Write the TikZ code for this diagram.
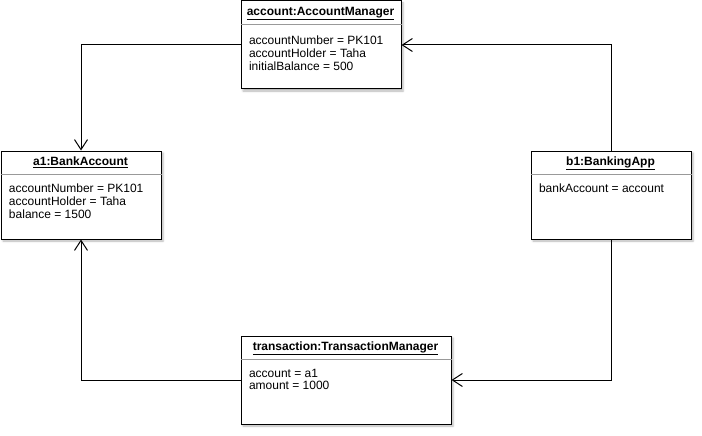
\documentclass[tikz,border=0pt]{standalone}
\usepackage{fontspec}
\setmainfont{Liberation Sans}
\usetikzlibrary{arrows.meta,shadows.blur}
\begin{document}
\begin{tikzpicture}[x=1pt,y=-1pt,line width=1pt,
  objbox/.style={draw=black,fill=white,anchor=north west,minimum height=88pt,inner sep=0pt,
    blur shadow={shadow xshift=2pt,shadow yshift=-2pt,shadow blur radius=2pt,shadow opacity=30}},
  sepline/.style={draw=black!40,line width=0.8pt},
  titletext/.style={font=\fontsize{12pt}{13pt}\selectfont\bfseries,anchor=base,inner sep=0pt},
  attrtext/.style={font=\fontsize{12pt}{12.7pt}\selectfont,align=left,anchor=north west,inner sep=0pt},
  conn/.style={draw=black,line width=1pt,-{Straight Barb[length=10pt,width=13pt,line width=1pt]}}]
\useasboundingbox (0,0) rectangle (702,436);

% boxes
\node[objbox,minimum width=160pt] (am) at (240.5,0.5) {};
\node[objbox,minimum width=160pt] (ba) at (0.5,150.5) {};
\node[objbox,minimum width=160pt] (bapp) at (530.5,150.5) {};
\node[objbox,minimum width=210pt] (tm) at (240.5,335.5) {};

% separators
\draw[sepline] ([yshift=-23.5pt]am.north west) -- ([yshift=-23.5pt]am.north east);
\draw[sepline] ([yshift=-23.5pt]ba.north west) -- ([yshift=-23.5pt]ba.north east);
\draw[sepline] ([yshift=-23.5pt]bapp.north west) -- ([yshift=-23.5pt]bapp.north east);
\draw[sepline] ([yshift=-23.5pt]tm.north west) -- ([yshift=-23.5pt]tm.north east);

% titles
\node[titletext] (amt) at (320.5,15.5) {\underline{account:AccountManager}};
\node[titletext] (bat) at (80.5,165.5) {\underline{a1:BankAccount}};
\node[titletext] (bappt) at (610.5,165.5) {\underline{b1:BankingApp}};
\node[titletext] (tmt) at (345.5,350.5) {\underline{transaction:TransactionManager}};

% attributes
\node[attrtext] (ama) at (248.5,35.5) {accountNumber = PK101\\accountHolder = Taha\\initialBalance = 500};
\node[attrtext] (baa) at (8.5,183.5) {accountNumber = PK101\\accountHolder = Taha\\balance = 1500};
\node[attrtext] (bappa) at (538.5,183.5) {bankAccount = account};
\node[attrtext] (tma) at (248.5,368.5) {account = a1\\amount = 1000};

% connectors
\draw[conn] (am.west) -| (ba.north);
\draw[conn] (bapp.north) |- (am.east);
\draw[conn] (bapp.south) |- (tm.east);
\draw[conn] (tm.west) -| (ba.south);
\end{tikzpicture}
\end{document}
